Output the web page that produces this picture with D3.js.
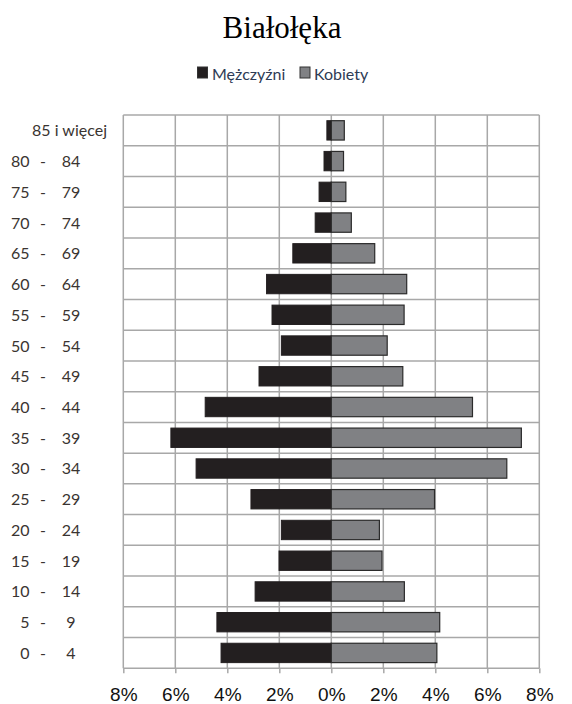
<!DOCTYPE html>
<html>
<head>
<meta charset="utf-8">
<script src="https://cdn.jsdelivr.net/npm/d3@7"></script>
<style>
  body { margin: 0; background: #fff; }
  svg { display: block; }
</style>
</head>
<body>
<svg id="chart"></svg>
<script>
// Age groups, bottom to top
const ages = ["0 - 4", "5 - 9", "10 - 14", "15 - 19", "20 - 24", "25 - 29", "30 - 34", "35 - 39",
  "40 - 44", "45 - 49", "50 - 54", "55 - 59", "60 - 64", "65 - 69", "70 - 74", "75 - 79",
  "80 - 84", "85 i więcej"];

// Share of population (%)
const men = [4.24, 4.40, 2.93, 2.01, 1.92, 3.09, 5.20, 6.17, 4.85, 2.78, 1.92, 2.28, 2.49, 1.48, 0.62, 0.47, 0.28, 0.17];
const women = [4.06, 4.17, 2.81, 1.95, 1.85, 3.97, 6.75, 7.31, 5.43, 2.75, 2.15, 2.80, 2.90, 1.67, 0.77, 0.56, 0.47, 0.50];

const seriesNames = ["Mężczyźni", "Kobiety"];
const xTicks = [-8, -6, -4, -2, 0, 2, 4, 6, 8];

const width = 572;
const height = 704;
const plot = { left: 123.3, right: 539.3, top: 115, bottom: 668.3 };

const colors = { men: "#231f20", women: "#808184", grid: "#a8a8a8", label: "#3a3431" };

const svg = d3.select("#chart")
  .attr("width", width)
  .attr("height", height);

const x = d3.scaleLinear()
  .domain([-8, 8])
  .range([plot.left, plot.right]);

// Rows, top category first
const rows = d3.scaleBand()
  .domain(ages.slice().reverse())
  .range([plot.top, plot.bottom]);

const y = d3.scaleBand()
  .domain(ages.slice().reverse())
  .range([plot.top, plot.bottom])
  .paddingInner(0.37)
  .paddingOuter(0.185);

// Title
svg.append("text")
  .attr("x", 282)
  .attr("y", 38)
  .attr("text-anchor", "middle")
  .style("font-family", "'Liberation Serif', 'Times New Roman', serif")
  .style("font-size", "31px")
  .style("fill", "#000")
  .text("Białołęka");

// Legend
const legend = svg.append("g").attr("class", "legend");
const legendItems = [
  { name: seriesNames[0], color: colors.men, sx: 197.5, tx: 212 },
  { name: seriesNames[1], color: colors.women, sx: 300, tx: 314 }
];
legendItems.forEach(d => {
  legend.append("rect")
    .attr("x", d.sx)
    .attr("y", 67)
    .attr("width", 10)
    .attr("height", 11)
    .style("fill", d.color)
    .style("stroke", "#333")
    .style("stroke-width", 1);
  legend.append("text")
    .attr("x", d.tx)
    .attr("y", 79.5)
    .style("font-family", "Lato, 'Noto Sans', sans-serif")
    .style("font-size", "16px")
    .style("fill", "#2e3b55")
    .text(d.name);
});

// Grid: horizontal row boundaries
const grid = svg.append("g").attr("class", "grid");
const rowEdges = rows.domain().map(d => rows(d)).concat([plot.bottom]);
grid.selectAll(".hline")
  .data(rowEdges)
  .enter()
  .append("line")
  .attr("class", "hline")
  .attr("x1", plot.left)
  .attr("x2", plot.right)
  .attr("y1", d => d)
  .attr("y2", d => d)
  .style("stroke", colors.grid)
  .style("stroke-width", 1.5);

// Grid: vertical lines at ticks
grid.selectAll(".vline")
  .data(xTicks)
  .enter()
  .append("line")
  .attr("class", "vline")
  .attr("x1", d => x(d))
  .attr("x2", d => x(d))
  .attr("y1", plot.top)
  .attr("y2", plot.bottom)
  .style("stroke", colors.grid)
  .style("stroke-width", 1.5);

// Bars
const bars = svg.append("g").attr("class", "bars");
bars.selectAll(".bar-men")
  .data(ages)
  .enter()
  .append("rect")
  .attr("class", "bar-men")
  .attr("x", (d, i) => x(-men[i]))
  .attr("y", d => y(d))
  .attr("width", (d, i) => x(0) - x(-men[i]))
  .attr("height", y.bandwidth())
  .style("fill", colors.men)
  .style("stroke", "#231f20")
  .style("stroke-width", 1);

bars.selectAll(".bar-women")
  .data(ages)
  .enter()
  .append("rect")
  .attr("class", "bar-women")
  .attr("x", x(0))
  .attr("y", d => y(d))
  .attr("width", (d, i) => x(women[i]) - x(0))
  .attr("height", y.bandwidth())
  .style("fill", colors.women)
  .style("stroke", "#2b2b2b")
  .style("stroke-width", 1.2);

// X axis
const xAxis = d3.axisBottom(x)
  .tickValues(xTicks)
  .tickFormat(d => Math.abs(d) + "%")
  .tickSize(5)
  .tickPadding(14);

const axisG = svg.append("g")
  .attr("transform", `translate(0,${plot.bottom})`)
  .call(xAxis);
axisG.select(".domain").remove();
axisG.selectAll(".tick line")
  .style("stroke", colors.grid)
  .style("stroke-width", 1.5);
axisG.selectAll(".tick text")
  .style("font-family", "'Liberation Sans', Arial, sans-serif")
  .style("font-size", "19px")
  .style("fill", "#111");

// Y labels, split into "from - to" columns
const yLabels = svg.append("g").attr("class", "y-labels")
  .style("font-family", "Lato, 'Noto Sans', sans-serif")
  .style("font-size", "16px")
  .style("fill", colors.label);

ages.forEach(a => {
  const cy = rows(a) + rows.bandwidth() / 2 + 6;
  const parts = a.split(" - ");
  if (parts.length === 2) {
    yLabels.append("text").attr("x", 29.5).attr("y", cy).attr("text-anchor", "end").text(parts[0]);
    yLabels.append("text").attr("x", 43).attr("y", cy).attr("text-anchor", "middle").text("-");
    yLabels.append("text").attr("x", 71).attr("y", cy).attr("text-anchor", "middle").text(parts[1]);
  } else {
    yLabels.append("text").attr("x", 107).attr("y", cy).attr("text-anchor", "end")
      .text(a);
  }
});
</script>
</body>
</html>
